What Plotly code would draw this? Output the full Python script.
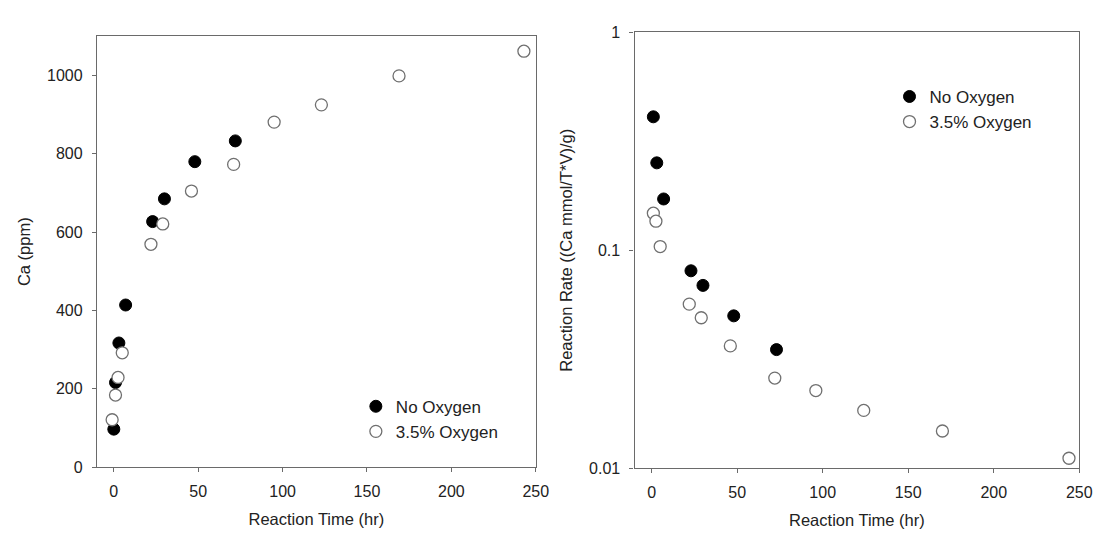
import plotly.graph_objects as go

# Left panel: Ca (ppm) vs reaction time
t_no_ca = [0, 1, 3, 7, 23, 30, 48, 72]
ca_no = [97, 216, 317, 414, 627, 685, 780, 833]
t_ox_ca = [-1, 1, 2.5, 5, 22, 29, 46, 71, 95, 123, 169, 243]
ca_ox = [121, 184, 229, 292, 569, 621, 705, 773, 881, 925, 999, 1062]

# Right panel: reaction rate vs reaction time (log scale)
t_no_rate = [1, 3, 7, 23, 30, 48, 73]
rate_no = [0.41, 0.252, 0.172, 0.0805, 0.069, 0.050, 0.035]
t_ox_rate = [1, 2.5, 5, 22, 29, 46, 72, 96, 124, 170, 244]
rate_ox = [0.148, 0.136, 0.104, 0.0566, 0.049, 0.0364, 0.0259, 0.0227, 0.0184, 0.0148, 0.0111]

series_names = ["No Oxygen", "3.5% Oxygen"]
x_ticks = [0, 50, 100, 150, 200, 250]
ca_ticks = [0, 200, 400, 600, 800, 1000]
rate_ticks = [0.01, 0.1, 1]
rate_tick_text = ["0.01", "0.1", "1"]

FONT = "Arial, Liberation Sans, sans-serif"
AX = "#6a6a6a"
TXT = "#222222"

filled = dict(size=12, color="black", line=dict(color="black", width=1))
hollow = dict(size=12, color="white", line=dict(color="#707070", width=1.3))

fig = go.Figure()
fig.add_trace(go.Scatter(x=t_no_ca, y=ca_no, mode="markers", marker=filled,
                         name=series_names[0], xaxis="x", yaxis="y", legend="legend"))
fig.add_trace(go.Scatter(x=t_ox_ca, y=ca_ox, mode="markers", marker=hollow,
                         name=series_names[1], xaxis="x", yaxis="y", legend="legend"))
fig.add_trace(go.Scatter(x=t_no_rate, y=rate_no, mode="markers", marker=filled,
                         name=series_names[0], xaxis="x2", yaxis="y2", legend="legend2"))
fig.add_trace(go.Scatter(x=t_ox_rate, y=rate_ox, mode="markers", marker=hollow,
                         name=series_names[1], xaxis="x2", yaxis="y2", legend="legend2"))

W, H = 1105, 533
def px(v): return v / W
def py(v): return 1 - v / H

TICKF = dict(family=FONT, size=16, color=TXT)
TITLEF = dict(family=FONT, size=16.5, color=TXT)

axis_common = dict(showgrid=False, zeroline=False, showline=True, linecolor=AX, linewidth=1.3,
                   mirror=True, ticks="outside", ticklen=4, tickcolor=AX, tickwidth=1.3,
                   tickfont=TICKF, ticklabelstandoff=6)

fig.update_layout(
    width=W, height=H, margin=dict(l=0, r=0, t=0, b=0),
    paper_bgcolor="white", plot_bgcolor="white",
    font=dict(family=FONT, color=TXT),
    xaxis=dict(domain=[px(90), px(534)], anchor="y", range=[-10, 250], tickvals=x_ticks,
               title=dict(text="Reaction Time (hr)", font=TITLEF, standoff=13),
               **axis_common),
    yaxis=dict(domain=[py(466), py(21)], anchor="x", range=[0, 1100], tickvals=ca_ticks,
               title=dict(text="Ca (ppm)", font=TITLEF, standoff=12),
               **axis_common),
    xaxis2=dict(domain=[px(634), px(1084)], anchor="y2", range=[-10, 250], tickvals=x_ticks,
                title=dict(text="Reaction Time (hr)", font=TITLEF, standoff=13),
                **axis_common),
    yaxis2=dict(domain=[py(467), py(17)], anchor="x2", type="log", range=[-2, 0],
                tickvals=rate_ticks, ticktext=rate_tick_text,
                title=dict(text="Reaction Rate ((Ca mmol/T*V)/g)", font=TITLEF, standoff=12),
                **axis_common),
    legend=dict(x=px(352), y=py(385), xanchor="left", yanchor="top", bgcolor="rgba(0,0,0,0)",
                font=dict(family=FONT, size=17, color=TXT), tracegroupgap=0),
    legend2=dict(x=px(892), y=py(65), xanchor="left", yanchor="top", bgcolor="rgba(0,0,0,0)",
                 font=dict(family=FONT, size=17, color=TXT), tracegroupgap=0),
)

fig.write_html("out.html")
